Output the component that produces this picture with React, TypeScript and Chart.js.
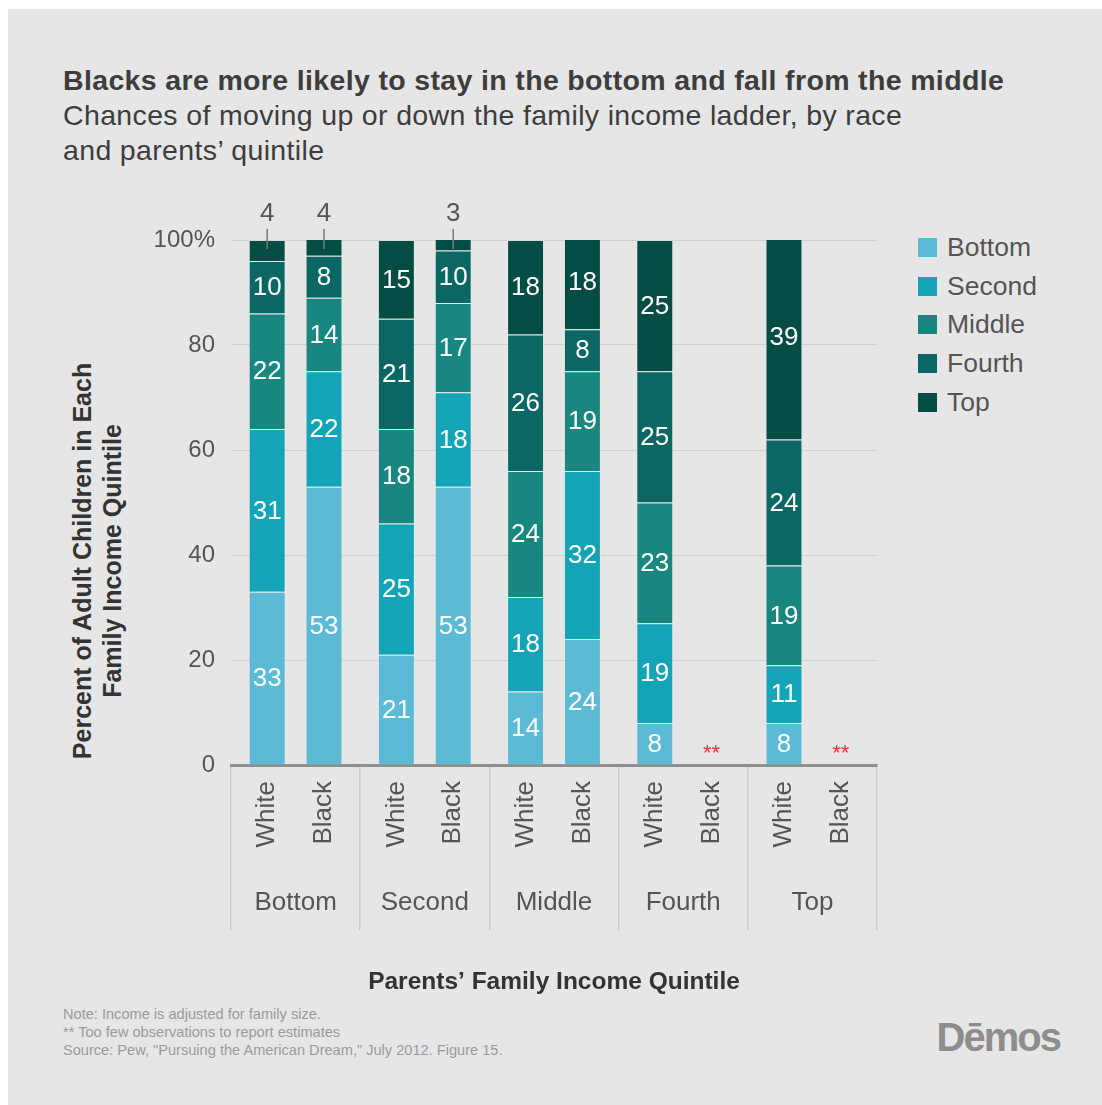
import React, { useEffect, useRef } from 'react';
import { Chart, registerables } from 'chart.js';

Chart.register(...registerables);

const FONT = '"Liberation Sans", Arial, Helvetica, sans-serif';

// Parents' family income quintile (x groups)
const quintiles = ['Bottom', 'Second', 'Middle', 'Fourth', 'Top'];
// Races shown inside each group
const races = ['White', 'Black'];
// Adult children's quintile (stack segments)
const segmentNames = ['Bottom', 'Second', 'Middle', 'Fourth', 'Top'];
const segmentColors = ['#5bbad5', '#13a4b7', '#17877f', '#0b6764', '#044d45'];

// White adult children, % by own quintile, across parents' quintiles
const whiteBottom = [33, 21, 14, 8, 8];
const whiteSecond = [31, 25, 18, 19, 11];
const whiteMiddle = [22, 18, 24, 23, 19];
const whiteFourth = [10, 21, 26, 25, 24];
const whiteTop = [4, 15, 18, 25, 39];

// Black adult children (null = too few observations)
const blackBottom = [53, 53, 24, null, null];
const blackSecond = [22, 18, 32, null, null];
const blackMiddle = [14, 17, 19, null, null];
const blackFourth = [8, 10, 8, null, null];
const blackTop = [4, 3, 18, null, null];

const yTicks = [0, 20, 40, 60, 80, 100];

const seriesByRace: Record<string, (number | null)[][]> = {
  White: [whiteBottom, whiteSecond, whiteMiddle, whiteFourth, whiteTop],
  Black: [blackBottom, blackSecond, blackMiddle, blackFourth, blackTop],
};

const labelPlugin = {
  id: 'segmentLabels',
  afterDatasetsDraw(chart: any) {
    const { ctx, chartArea, scales } = chart;
    const zeroY = scales.y.getPixelForValue(0);
    ctx.save();
    chart.data.datasets.forEach((ds: any, i: number) => {
      const meta = chart.getDatasetMeta(i);
      meta.data.forEach((el: any, j: number) => {
        const v = ds.data[j];
        const { x, y, base } = el.getProps(['x', 'y', 'base'], true);
        if (v == null) {
          if (ds.segIndex === 0) {
            ctx.fillStyle = '#e8353a';
            ctx.font = `22px ${FONT}`;
            ctx.textAlign = 'center';
            ctx.textBaseline = 'alphabetic';
            ctx.fillText('**', x, zeroY - 5);
          }
          return;
        }
        if (v < 5) {
          ctx.strokeStyle = '#7a7a7a';
          ctx.lineWidth = 1.5;
          ctx.beginPath();
          ctx.moveTo(x, chartArea.top - 11);
          ctx.lineTo(x, chartArea.top + 9);
          ctx.stroke();
          ctx.fillStyle = '#555555';
          ctx.font = `26px ${FONT}`;
          ctx.textAlign = 'center';
          ctx.textBaseline = 'middle';
          ctx.fillText(String(v), x, chartArea.top - 26);
        } else {
          ctx.fillStyle = '#ffffff';
          ctx.font = `26px ${FONT}`;
          ctx.textAlign = 'center';
          ctx.textBaseline = 'middle';
          ctx.fillText(String(v), x, (y + base) / 2 + 1);
        }
      });
      // race label under each bar, rotated
      if (ds.segIndex === 0) {
        meta.data.forEach((el: any) => {
          const { x } = el.getProps(['x'], true);
          ctx.save();
          ctx.translate(x, chartArea.bottom + 16);
          ctx.rotate(-Math.PI / 2);
          ctx.fillStyle = '#555555';
          ctx.font = `26px ${FONT}`;
          ctx.textAlign = 'right';
          ctx.textBaseline = 'middle';
          ctx.fillText(ds.stack, 0, 0);
          ctx.restore();
        });
      }
    });
    ctx.restore();
  },
};

export default function App() {
  const ref = useRef<HTMLCanvasElement>(null);

  useEffect(() => {
    const canvas = ref.current;
    if (!canvas) return;
    const datasets: any[] = [];
    races.forEach((race) => {
      seriesByRace[race].forEach((data, k) => {
        datasets.push({
          label: segmentNames[k],
          data,
          stack: race,
          segIndex: k,
          backgroundColor: segmentColors[k],
          borderColor: 'rgba(255,255,255,0.15)',
          borderWidth: 1,
          categoryPercentage: 0.88,
          barPercentage: 0.65,
        });
      });
    });

    const chart = new Chart(canvas, {
      type: 'bar',
      data: { labels: quintiles, datasets },
      options: {
        animation: false,
        responsive: false,
        maintainAspectRatio: false,
        layout: { padding: { left: 0, right: 31, top: 50, bottom: 0 } },
        plugins: {
          legend: { display: false },
          tooltip: { enabled: false },
          title: { display: false },
        },
        scales: {
          x: {
            stacked: true,
            afterFit: (s: any) => {
              s.height = 240;
            },
            grid: {
              display: true,
              drawOnChartArea: false,
              drawTicks: true,
              tickLength: 165,
              offset: true,
              color: '#cccccc',
              lineWidth: 1.5,
            },
            border: { display: true, color: '#8f8f8f', width: 3 },
            ticks: {
              font: { family: FONT, size: 26 },
              color: '#555555',
              padding: -43,
              maxRotation: 0,
              autoSkip: false,
            },
            title: {
              display: true,
              text: 'Parents\u2019 Family Income Quintile',
              font: { family: FONT, size: 24.5, weight: 'bold' },
              color: '#333333',
              padding: { top: 0, bottom: 8 },
            },
          },
          y: {
            stacked: true,
            min: 0,
            max: 100,
            afterFit: (s: any) => {
              s.width = 223;
            },
            afterBuildTicks: (s: any) => {
              s.ticks = yTicks.map((v) => ({ value: v }));
            },
            grid: { color: '#d0d0d0', lineWidth: 1, drawTicks: false },
            border: { display: false },
            ticks: {
              font: { family: FONT, size: 24 },
              color: '#555555',
              padding: 16,
              callback: (v: any) => (v === 100 ? '100%' : String(v)),
            },
          },
        },
      } as any,
      plugins: [labelPlugin],
    });
    return () => chart.destroy();
  }, []);

  const textColor = '#3d3d3d';

  return (
    <div
      style={{
        position: 'fixed',
        left: 8,
        top: 9,
        width: 1094,
        height: 1096,
        background: '#e6e6e6',
        fontFamily: FONT,
        overflow: 'hidden',
      }}
    >
      <div
        style={{
          position: 'absolute',
          left: 55,
          top: 53.5,
          color: textColor,
          fontSize: 28.5,
          letterSpacing: 0.35,
          lineHeight: '35px',
          whiteSpace: 'nowrap',
        }}
      >
        <div style={{ fontWeight: 'bold' }}>Blacks are more likely to stay in the bottom and fall from the middle</div>
        <div>Chances of moving up or down the family income ladder, by race</div>
        <div>and parents’ quintile</div>
      </div>

      <div
        style={{
          position: 'absolute',
          left: 88.5,
          top: 552,
          transform: 'translate(-50%, -50%) rotate(-90deg)',
          fontWeight: 'bold',
          fontSize: 25,
          lineHeight: '30px',
          color: '#333333',
          textAlign: 'center',
          whiteSpace: 'nowrap',
        }}
      >
        Percent of Adult Children in Each
        <br />
        Family Income Quintile
      </div>

      <canvas
        ref={ref}
        width={900}
        height={815}
        style={{ position: 'absolute', left: 0, top: 181, width: 900, height: 815 }}
      />

      <div style={{ position: 'absolute', left: 910, top: 238 - 19, color: '#555555', fontSize: 26.5 }}>
        {segmentNames.map((name, k) => (
          <div key={name} style={{ display: 'flex', alignItems: 'center', height: 38.75 }}>
            <span
              style={{
                display: 'inline-block',
                width: 19,
                height: 19,
                background: segmentColors[k],
                marginRight: 10,
              }}
            />
            <span>{name}</span>
          </div>
        ))}
      </div>

      <div
        style={{
          position: 'absolute',
          left: 55,
          top: 996,
          color: '#9a9a9a',
          fontSize: 14.6,
          lineHeight: '18px',
          whiteSpace: 'nowrap',
        }}
      >
        <div>Note: Income is adjusted for family size.</div>
        <div>** Too few observations to report estimates</div>
        <div>Source: Pew, "Pursuing the American Dream," July 2012. Figure 15.</div>
      </div>

      <div
        style={{
          position: 'absolute',
          right: 42,
          top: 1008,
          color: '#8d8d8d',
          fontSize: 40,
          lineHeight: '40px',
          fontWeight: 'bold',
          letterSpacing: -2,
        }}
      >
        Dēmos
      </div>
    </div>
  );
}
